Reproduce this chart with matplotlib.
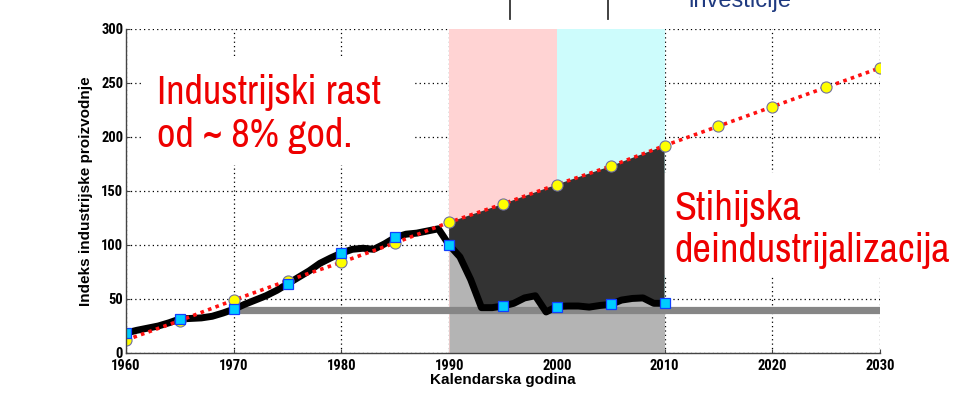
import matplotlib
matplotlib.use("Agg")
import matplotlib.pyplot as plt
from matplotlib.patches import Rectangle
import numpy as np

# ---------------- data ----------------
years_actual = list(range(1960, 2011))
actual = [18.5, 21, 23, 25, 28, 31.5, 32, 32.5, 34, 37,
          40.5, 45, 49, 53, 58, 64, 70, 76, 83, 88,
          92.5, 96, 97, 96, 101, 107, 110, 111, 113, 115,
          100, 89, 68, 42, 42, 43.5, 46, 51, 53, 38,
          43, 43.5, 43.5, 42.5, 44, 45, 49, 50.5, 51, 46, 46]
years_trend = list(range(1960, 2031, 5))
trend = [12, 30, 49, 67, 84, 102, 121, 138, 156, 173, 192, 210, 228, 246, 264]
baseline_level = 40
baseline_years = [1970, 2030]
span_pink = [1990, 2000]
span_cyan = [2000, 2010]
xticks = [1960, 1970, 1980, 1990, 2000, 2010, 2020, 2030]
yticks = [0, 50, 100, 150, 200, 250, 300]

W, H = 972, 397
fig = plt.figure(figsize=(W / 100, H / 100), dpi=100)
fig.patch.set_facecolor("white")


def fx(x):
    return x / W


def fy(y):
    return 1 - y / H


ax = fig.add_axes([fx(126), fy(353), fx(880) - fx(126), fy(29) - fy(353)])
ax.set_xlim(1960, 2030)
ax.set_ylim(0, 300)

narrow = ["Archivo Narrow", "Roboto Condensed", "Liberation Sans", "DejaVu Sans"]
narrow_bold = ["Roboto Condensed", "Liberation Sans", "DejaVu Sans"]
sans = ["Liberation Sans", "DejaVu Sans"]

# grid
ax.set_axisbelow(True)
ax.grid(True, color="black", linestyle=(0, (1, 2.5)), linewidth=0.9, zorder=0)

# spans
ax.axvspan(*span_pink, color="#ffd3d3", lw=0, zorder=1)
ax.axvspan(*span_cyan, color="#cdfcfc", lw=0, zorder=1)

ya = np.array(years_actual)
a = np.array(actual)
yt = np.array(years_trend)
t = np.array(trend)
mask_a = (ya >= 1990) & (ya <= 2010)
mask_t = (yt >= 1990) & (yt <= 2010)

# light gray below actual
ax.fill_between(ya[mask_a], 0, a[mask_a], color="#b4b4b4", lw=0, zorder=2)
# band
ax.plot(baseline_years, [baseline_level, baseline_level], color="#868686",
        lw=5.2, solid_capstyle="butt", zorder=2.5)
# dark area between trend and actual
poly_x = np.concatenate([yt[mask_t], ya[mask_a][::-1]])
poly_y = np.concatenate([t[mask_t], a[mask_a][::-1]])
ax.fill(poly_x, poly_y, color="#333333", lw=0, zorder=3)

# actual line
ax.plot(ya, a, color="black", lw=5.0, solid_joinstyle="round", zorder=4)
# trend line
ax.plot(yt, t, color="#ff1010", lw=2.6, linestyle=(0, (1, 1.2)), zorder=5)
ax.plot(yt, t, linestyle="none", marker="o", ms=8, mfc="#ffff00",
        mec="#7070a0", mew=0.8, zorder=6)
# squares
ax.plot(ya[::5], a[::5], linestyle="none", marker="s", ms=7.5, mfc="#00ccff",
        mec="#1040ff", mew=0.9, zorder=7)

# axes styling
for s in ["top", "right"]:
    ax.spines[s].set_visible(False)
for s in ["left", "bottom"]:
    ax.spines[s].set_color("#444444")
    ax.spines[s].set_linewidth(1.0)
    ax.spines[s].set_zorder(8)
ax.set_xticks(xticks)
ax.set_yticks(yticks)
ax.tick_params(direction="in", length=3, width=0.8, colors="#444444",
               labelcolor="black", pad=2)
ax.tick_params(axis="x", pad=4.5)
for lab in ax.get_xticklabels() + ax.get_yticklabels():
    lab.set_fontfamily(narrow_bold)
    lab.set_fontweight("bold")
    lab.set_fontsize(10.5)

ax.set_xlabel("Kalendarska godina", fontfamily=sans, fontweight="bold",
              fontsize=11, labelpad=0)
ax.set_ylabel("Indeks industrijske proizvodnje", fontfamily=sans,
              fontweight="bold", fontsize=11, labelpad=6)

# white boxes behind annotation texts (cover grid)
fig_tr = fig.transFigure
ax.add_patch(Rectangle((fx(143), fy(165)), fx(413) - fx(143), fy(58) - fy(165),
                       transform=fig_tr, facecolor="white", edgecolor="none",
                       zorder=1.5))
ax.add_patch(Rectangle((fx(655), fy(275)), fx(960) - fx(655), fy(173) - fy(275),
                       transform=fig_tr, facecolor="white", edgecolor="none",
                       zorder=1.5, clip_on=False))

red = "#ee0000"
fs_big = 29
fig.text(fx(157), fy(104), "Industrijski rast", color=red, fontsize=fs_big,
         fontfamily=narrow, va="baseline", ha="left")
fig.text(fx(157), fy(147), "od ~ 8% god.", color=red, fontsize=fs_big,
         fontfamily=narrow, va="baseline", ha="left")
fig.text(fx(674), fy(220), "Stihijska", color=red, fontsize=fs_big,
         fontfamily=narrow, va="baseline", ha="left")
fig.text(fx(674), fy(262), "deindustrijalizacija", color=red, fontsize=fs_big,
         fontfamily=narrow, va="baseline", ha="left")

# cropped elements at the top of the picture
fig.add_artist(plt.Line2D([fx(510), fx(510)], [fy(0), fy(19)], color="#333333",
                          lw=1.3, transform=fig_tr))
fig.add_artist(plt.Line2D([fx(608), fx(608)], [fy(0), fy(19)], color="#333333",
                          lw=1.3, transform=fig_tr))
fig.text(fx(688), fy(7), "investicije", color="#1f3a80", fontsize=17,
         fontfamily=sans, va="baseline", ha="left")

fig.savefig("out.png", dpi=100, facecolor="white")
